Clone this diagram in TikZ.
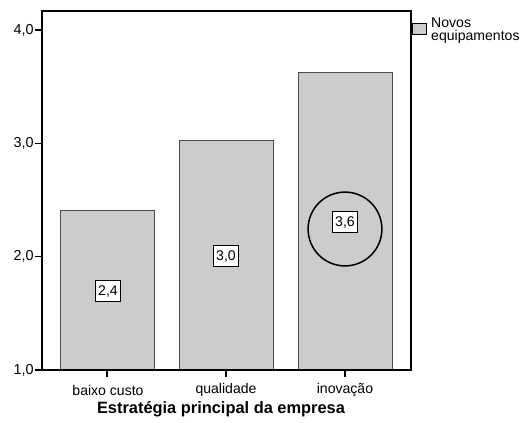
\documentclass[tikz,border=0pt]{standalone}
\usepackage{fontspec}
\setmainfont{Liberation Sans}
\usetikzlibrary{positioning}
\tikzset{frame/.style={draw,line width=0.9pt}}
\tikzset{bar/.style={draw=black!70,fill=black!20,line width=0.8pt}}
\tikzset{val/.style={rectangle,draw,fill=white,inner sep=2.5pt,minimum height=18pt,font=\fontsize{12}{12}\selectfont}}
\tikzset{ticklab/.style={anchor=east,inner sep=1pt,font=\fontsize{12.3}{12}\selectfont}}
\tikzset{catlab/.style={inner sep=0pt,font=\fontsize{12}{12}\selectfont}}
\tikzset{ring/.style={draw,circle,line width=1.3pt,minimum size=63pt,inner sep=0pt}}

\begin{document}
\begin{tikzpicture}[x=0.03cm,y=-0.03cm]
    \useasboundingbox (0,0) rectangle (522,423);

    \path[bar] (60,370) rectangle (154,210);
    \path[bar] (179,370) rectangle (273,140);
    \path[bar] (298,370) rectangle (392,72);

    \path[frame] (42,11) rectangle (411,370);

    \coordinate (y4) at (35,30);
    \coordinate (y3) at (35,143.3);
    \coordinate (y2) at (35,256.7);
    \coordinate (y1) at (35,370);
    \path[frame] (y4) -- +(7,0);
    \path[frame] (y3) -- +(7,0);
    \path[frame] (y2) -- +(7,0);
    \path[frame] (y1) -- +(7,0);
    \node[ticklab] (l4) at (y4) {4,0};
    \node[ticklab] (l3) at (y3) {3,0};
    \node[ticklab] (l2) at (y2) {2,0};
    \node[ticklab] (l1) at (y1) {1,0};

    \coordinate (x1) at (107,370);
    \coordinate (x2) at (226,370);
    \coordinate (x3) at (345,370);
    \path[frame] (x1) -- +(0,7);
    \path[frame] (x2) -- +(0,7);
    \path[frame] (x3) -- +(0,7);
    \node[catlab] (baixo) at (108,390) {baixo custo};
    \node[catlab] (qual) at (226,390) {qualidade};
    \node[catlab] (inov) at (345,390) {inovação};
    \node[catlab,font=\fontsize{14}{14}\selectfont\bfseries] (titulo) at (221,409) {Estratégia principal da empresa};

    \node[val] (v1) at (108,291) {2,4};
    \node[val] (v2) at (226,256) {3,0};
    \node[val] (v3) at (345,222) {3,6};
    \node[ring] (destaque) at (345,229) {};

    \path[draw,fill=black!20,line width=0.6pt] (412,23) rectangle (426,34);
    \node[anchor=north west,align=left,inner sep=0pt,font=\fontsize{12}{11}\selectfont] (legenda) at (431,18) {Novos\\equipamentos};
\end{tikzpicture}
\end{document}
